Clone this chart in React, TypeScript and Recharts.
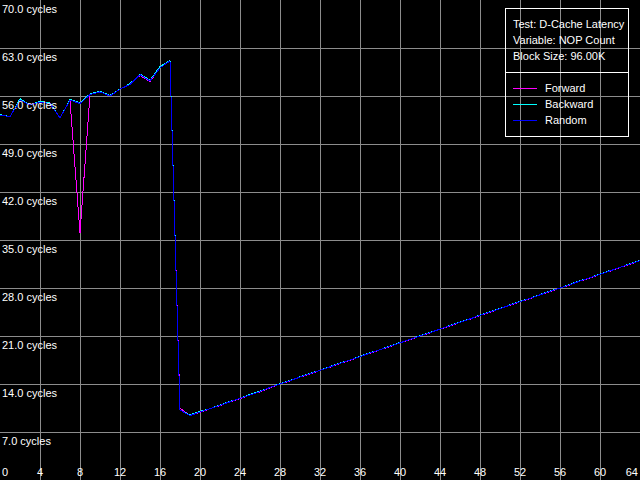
import { LineChart, Line, XAxis, YAxis, CartesianGrid } from 'recharts';

const CHART_W = 640;
const CHART_H = 480;
const FONT = '"Liberation Sans", Arial, sans-serif';

// NOP count on the x axis, latency in cycles on the y axis
const nopCounts = [
  0, 1, 2, 3, 4, 5, 6, 7, 8, 9, 10, 11, 12, 13, 14, 15, 16, 17, 18, 19, 20, 21, 22, 23, 24, 25, 26, 27, 28, 29, 30, 31, 32,
  33, 34, 35, 36, 37, 38, 39, 40, 41, 42, 43, 44, 45, 46, 47, 48, 49, 50, 51, 52, 53, 54, 55, 56, 57, 58, 59, 60, 61, 62, 63, 64,
];

const forwardCycles = [
  53.2, 53.0, 55.5, 54.7, 55.1, 54.9, 52.8, 55.4, 36.0, 56.2, 56.6, 56.0, 57.0, 57.7, 59.0, 58.1, 60.1, 61.1, 10.5,
  9.4, 9.85, 10.4, 10.85, 11.4, 11.85, 12.4, 12.85, 13.45, 14.0, 14.45, 15.0, 15.45, 16.0, 16.45, 17.0, 17.45, 18.0, 18.45,
  19.0, 19.45, 20.0, 20.45, 21.0, 21.45, 22.0, 22.45, 23.0, 23.45, 24.0, 24.45, 25.0, 25.45, 26.0, 26.45, 27.0, 27.45,
  28.0, 28.45, 29.0, 29.45, 30.0, 30.45, 31.0, 31.45, 32.0,
];

const backwardCycles = [
  53.3, 53.0, 55.6, 54.7, 55.2, 55.0, 52.8, 55.5, 55.0, 56.3, 56.7, 56.1, 57.0, 57.8, 59.2, 58.3, 60.3, 61.2, 10.2,
  9.5, 10.0, 10.4, 10.95, 11.45, 11.9, 12.5, 12.95, 13.5, 14.05, 14.5, 15.05, 15.55, 16.0, 16.55, 17.05, 17.5, 18.05, 18.55,
  19.0, 19.55, 20.05, 20.5, 21.05, 21.55, 22.0, 22.55, 23.05, 23.5, 24.05, 24.55, 25.0, 25.55, 26.05, 26.5, 27.05, 27.55,
  28.0, 28.55, 29.05, 29.5, 30.05, 30.55, 31.0, 31.55, 32.05,
];

const randomCycles = [
  53.2, 53.0, 55.4, 54.7, 55.1, 54.9, 52.8, 55.4, 54.9, 56.2, 56.6, 56.0, 57.0, 57.7, 59.1, 58.2, 60.1, 61.1, 10.2,
  9.4, 9.9, 10.4, 10.9, 11.4, 11.9, 12.4, 12.9, 13.5, 14.0, 14.5, 15.0, 15.5, 16.0, 16.5, 17.0, 17.5, 18.0, 18.5,
  19.0, 19.5, 20.0, 20.5, 21.0, 21.5, 22.0, 22.5, 23.0, 23.5, 24.0, 24.5, 25.0, 25.5, 26.0, 26.5, 27.0, 27.5,
  28.0, 28.5, 29.0, 29.5, 30.0, 30.5, 31.0, 31.5, 32.0,
];

const xTicks = [0, 4, 8, 12, 16, 20, 24, 28, 32, 36, 40, 44, 48, 52, 56, 60, 64];
const yTicks = [7, 14, 21, 28, 35, 42, 49, 56, 63, 70];
const gridX = [4, 8, 12, 16, 20, 24, 28, 32, 36, 40, 44, 48, 52, 56, 60];
const gridY = [7, 14, 21, 28, 35, 42, 49, 56, 63];

const infoLines = ['Test: D-Cache Latency', 'Variable: NOP Count', 'Block Size: 96.00K'];
const seriesKeys = ['forward', 'backward', 'random'];
const seriesNames = ['Forward', 'Backward', 'Random'];
const seriesColors = ['#ff00ff', '#00ffff', '#0000ff'];

const data = nopCounts.map((x, i) => ({
  x,
  forward: forwardCycles[i],
  backward: backwardCycles[i],
  random: randomCycles[i],
}));

const XTick = ({ x, payload, index }: any) => {
  const last = index === xTicks.length - 1;
  const anchor = index === 0 ? 'start' : last ? 'end' : 'middle';
  const dx = index === 0 ? 2 : last ? -2 : 0;
  return (
    <text x={x + dx} y={CHART_H - 4} textAnchor={anchor} fill="#fff" fontSize={11} fontFamily={FONT}>
      {payload.value}
    </text>
  );
};

const YTick = ({ y, payload }: any) => (
  <text x={2} y={y + 13} textAnchor="start" fill="#fff" fontSize={11} fontFamily={FONT}>
    {`${Number(payload.value).toFixed(1)} cycles`}
  </text>
);

function InfoBox() {
  return (
    <div
      style={{
        position: 'absolute',
        left: 505,
        top: 8,
        width: 124,
        height: 129,
        boxSizing: 'border-box',
        border: '1px solid #fff',
        color: '#fff',
        fontFamily: FONT,
        fontSize: 11,
        lineHeight: '16px',
      }}
    >
      <div style={{ position: 'absolute', left: 7, top: 7 }}>
        {infoLines.map((line) => (
          <div key={line} style={{ whiteSpace: 'nowrap', height: 16 }}>{line}</div>
        ))}
      </div>
      <div style={{ position: 'absolute', left: 0, right: 0, top: 63, borderTop: '1px solid #fff' }} />
      <div style={{ position: 'absolute', left: 7, top: 71 }}>
        {seriesNames.map((name, i) => (
          <div key={name} style={{ display: 'flex', alignItems: 'center', height: 16 }}>
            <div style={{ width: 24, height: 0, borderTop: `1px solid ${seriesColors[i]}`, marginRight: 8 }} />
            <span>{name}</span>
          </div>
        ))}
      </div>
    </div>
  );
}

export default function App() {
  return (
    <div style={{ position: 'absolute', left: 0, top: 0, width: CHART_W, height: CHART_H, background: '#000' }}>
      <style>{'.recharts-cartesian-grid line, .recharts-line-curve { shape-rendering: crispEdges; }'}</style>
      <LineChart width={CHART_W} height={CHART_H} data={data} margin={{ top: 0, right: 0, bottom: 0, left: 0 }}>
        <CartesianGrid stroke="#8c8c8c" horizontalValues={gridY} verticalValues={gridX} />
        <XAxis
          dataKey="x"
          type="number"
          domain={[0, 64]}
          ticks={xTicks}
          interval={0}
          mirror
          axisLine={false}
          tickLine={false}
          tick={<XTick />}
        />
        <YAxis
          type="number"
          domain={[0, 70]}
          ticks={yTicks}
          interval={0}
          mirror
          axisLine={false}
          tickLine={false}
          tick={<YTick />}
        />
        {seriesKeys.map((key, i) => (
          <Line
            key={key}
            type="linear"
            dataKey={key}
            name={seriesNames[i]}
            stroke={seriesColors[i]}
            strokeWidth={1}
            dot={false}
            activeDot={false}
            isAnimationActive={false}
          />
        ))}
      </LineChart>
      <InfoBox />
    </div>
  );
}
